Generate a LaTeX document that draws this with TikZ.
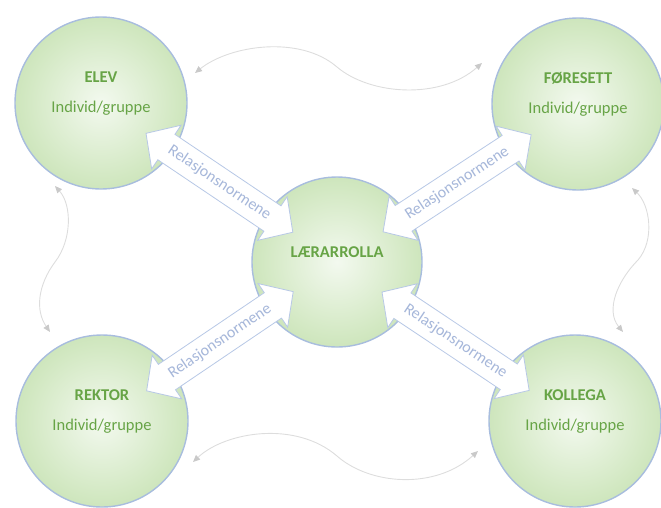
\documentclass[tikz,border=0pt]{standalone}
\usepackage{fontspec}
\setmainfont{Carlito}
\usepackage{xcolor}
\usetikzlibrary{arrows.meta, shapes.arrows, calc}

\definecolor{ballcore}{HTML}{F3F9EF}
\definecolor{ballmid}{HTML}{D2E8C2}
\definecolor{ballrim}{HTML}{AFD396}
\definecolor{ballline}{HTML}{A8BDDE}
\definecolor{labelgreen}{HTML}{67A446}
\definecolor{bandline}{HTML}{B7C8E6}
\definecolor{bandtext}{HTML}{A6B7DA}
\definecolor{swingline}{HTML}{DDDDDD}
\definecolor{swinghead}{HTML}{C9C9C9}
\pgfdeclareradialshading{greenball}{\pgfpoint{0bp}{0bp}}{color(0bp)=(ballcore); color(22bp)=(ballmid); color(46bp)=(ballrim); color(50bp)=(ballrim)}

\begin{document}
\begin{tikzpicture}[x=1pt, y=-1pt,
    ball/.style={circle, shading=greenball, draw=ballline, line width=1.4pt, minimum size=172pt, inner sep=0pt},
    title/.style={text=labelgreen, font=\fontsize{16.5}{18}\selectfont\bfseries},
    sub/.style={text=labelgreen, font=\fontsize{16.5}{18}\selectfont},
    band/.style={double arrow, fill=white, draw=bandline, line width=0.8pt, text=bandtext, sloped,
        double arrow head extend=11pt, double arrow tip angle=94, minimum height=177pt,
        inner xsep=0pt, inner ysep=8pt, font=\fontsize{16}{18}\selectfont},
    swing/.style={swingline, line width=0.9pt,
        {Triangle[length=7pt, width=6pt, color=swinghead]}-{Triangle[length=7pt, width=6pt, color=swinghead]}}]
    \useasboundingbox (0,0) rectangle (661,507);

    \node[ball] (elev) at (101,103) {};
    \node[ball] (fore) at (578,104) {};
    \node[ball] (rektor) at (102,421) {};
    \node[ball] (kollega) at (575,421) {};
    \node[ball, minimum size=170pt] (rolla) at (337,262) {};

    \path (elev) -- node[band] (elevband) {Relasjonsnormene} (rolla);
    \path (rolla) -- node[band] (foreband) {Relasjonsnormene} (fore);
    \path (rektor) -- node[band] (rektorband) {Relasjonsnormene} (rolla);
    \path (rolla) -- node[band] (kollegaband) {Relasjonsnormene} (kollega);

    \node[title] (elevname) at ([yshift=26pt]elev.center) {ELEV};
    \node[sub] (elevsub) at ([yshift=-5pt]elev.center) {Individ/gruppe};
    \node[title] (forename) at ([yshift=26pt]fore.center) {FØRESETT};
    \node[sub] (foresub) at ([yshift=-5pt]fore.center) {Individ/gruppe};
    \node[title] (rektorname) at ([yshift=26pt]rektor.center) {REKTOR};
    \node[sub] (rektorsub) at ([yshift=-5pt]rektor.center) {Individ/gruppe};
    \node[title] (kolleganame) at ([yshift=26pt]kollega.center) {KOLLEGA};
    \node[sub] (kollegasub) at ([yshift=-5pt]kollega.center) {Individ/gruppe};
    \node[title] (rollaname) at ([yshift=10pt]rolla.center) {LÆRARROLLA};

    \draw[swing] ($(elev)+(94,-30)$) .. controls (230,45) and (300,35) .. (337,67)
        .. controls (370,95) and (440,100) .. ($(fore)+(-96,-41)$);
    \draw[swing] ($(rektor)+(91,41)$) .. controls (225,432) and (295,420) .. (337,456)
        .. controls (370,485) and (435,490) .. ($(kollega)+(-97,30)$);
    \draw[swing] ($(elev)+(-46,83)$) .. controls (72,205) and (72,240) .. (55,262)
        .. controls (38,285) and (35,310) .. ($(rektor)+(-52,-89)$);
    \draw[swing] ($(fore)+(54,84)$) .. controls (650,205) and (655,240) .. (638,260)
        .. controls (618,280) and (605,310) .. ($(kollega)+(48,-89)$);
\end{tikzpicture}
\end{document}
